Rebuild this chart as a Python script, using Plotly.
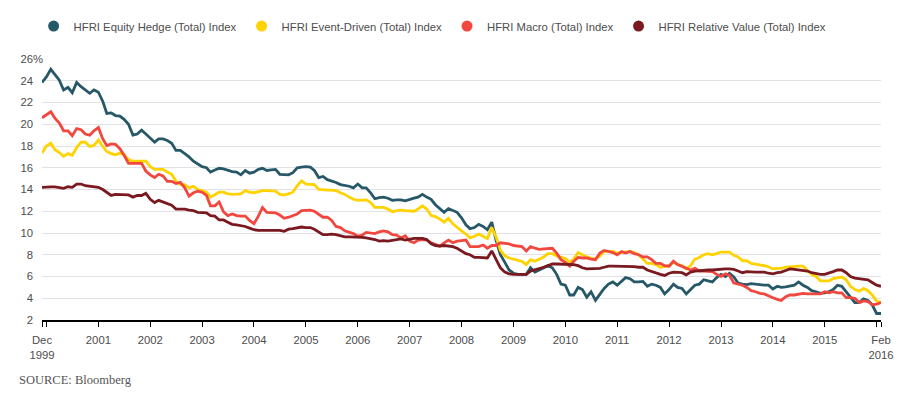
import pandas as pd
import plotly.graph_objects as go

# Monthly observations, Dec 1999 .. Feb 2016
dates = pd.date_range("1999-12-01", "2016-02-01", freq="MS")

equity_hedge = [
    23.85,
    24.35, 25.05, 24.55, 24.05, 23.15, 23.4, 22.9, 23.85, 23.45, 23.15, 22.85, 23.15,
    22.95, 22.1, 21.0, 21.05, 20.8, 20.75, 20.45, 20.0, 19.0, 19.1, 19.45, 19.1,
    18.7, 18.35, 18.65, 18.65, 18.5, 18.25, 17.6, 17.6, 17.3, 17.0, 16.6, 16.35,
    16.1, 16.0, 15.6, 15.8, 15.95, 15.9, 15.75, 15.65, 15.6, 15.35, 15.75, 15.5,
    15.6, 15.85, 15.95, 15.75, 15.8, 15.85, 15.4, 15.4, 15.35, 15.55, 16.0, 16.05,
    16.1, 16.05, 15.75, 15.1, 15.2, 14.9, 14.8, 14.65, 14.45, 14.4, 14.3, 14.15,
    14.5, 14.15, 14.15, 13.7, 13.15, 13.25, 13.3, 13.2, 13.0, 13.05, 13.05, 12.95,
    13.1, 13.2, 13.3, 13.55, 13.3, 13.1, 12.6, 12.25, 11.9, 12.25, 12.1, 11.9,
    11.4, 10.75, 10.4, 10.5, 10.8, 10.6, 10.3, 11.0, 9.3, 8.0, 7.3, 6.6,
    6.3, 6.2, 6.2, 6.2, 6.8, 6.4, 6.6, 6.8, 7.0, 6.8, 6.2, 5.3,
    5.2, 4.3, 4.3, 5.0, 4.8, 4.1, 4.6, 3.8, 4.4, 4.9, 5.3, 5.5,
    5.2, 5.6, 5.9, 5.8, 5.5, 5.5, 5.55, 5.1, 5.3, 5.2, 5.0, 4.4,
    4.8, 5.3, 5.0, 4.9, 4.4, 4.8, 5.2, 5.3, 5.7, 5.6, 5.5, 5.9,
    6.2, 6.0, 6.3, 5.95, 5.4, 5.3, 5.25, 5.35, 5.3, 5.2, 5.2, 5.2,
    4.85, 5.1, 5.0, 5.05, 5.15, 5.2, 5.5, 5.2, 5.0, 4.7, 4.6, 4.45,
    4.5, 4.6, 4.8, 5.2, 5.1, 4.6, 4.1, 3.6, 3.6, 3.95, 3.8, 3.4,
    2.6, 2.6,
]

event_driven = [
    17.35,
    18.0, 18.25, 17.65, 17.4, 17.05, 17.3, 17.15, 17.85, 18.35, 18.35, 17.95, 18.05,
    18.55, 17.95, 17.5, 17.3, 17.2, 17.35, 17.2, 16.75, 16.6, 16.6, 16.6, 16.6,
    16.1, 15.85, 15.85, 15.85, 15.6, 15.4, 14.75, 14.45, 14.45, 14.15, 14.3, 14.0,
    13.9, 13.75, 13.3, 13.55, 13.75, 13.75, 13.6, 13.55, 13.55, 13.6, 13.9, 13.75,
    13.7, 13.8, 13.9, 13.9, 13.85, 13.85, 13.55, 13.5, 13.6, 13.75, 14.35, 14.8,
    14.5, 14.5, 14.45, 14.0, 13.95, 13.95, 13.95, 13.9, 13.7, 13.55, 13.3, 13.1,
    13.0, 13.0, 13.05, 12.8, 12.35, 12.35, 12.35, 12.2, 11.95, 12.05, 12.1, 12.05,
    12.0, 12.0, 12.2, 12.5, 12.2, 11.6, 11.5, 11.3, 11.0, 11.35, 10.85, 10.5,
    10.2, 9.9, 9.55, 9.7, 9.9, 9.7, 9.5, 10.5, 9.6, 8.4, 7.9, 7.7,
    7.6, 7.5, 7.4, 7.1, 7.55, 7.4, 7.6, 7.8, 8.1, 8.1, 7.9, 7.8,
    7.65, 7.3, 7.6, 8.2, 8.0, 7.8, 7.7, 7.6, 7.9, 8.3, 8.3, 8.3,
    8.15, 8.2, 8.3, 8.3, 8.2, 8.0, 7.6, 7.2, 7.2, 7.1, 6.85, 6.95,
    7.0, 7.3, 7.1, 7.0, 6.7, 7.0, 7.6, 7.75, 8.0, 8.1, 8.0, 8.1,
    8.25, 8.25, 8.25, 7.95, 7.8, 7.45, 7.45, 7.2, 7.15, 7.05, 7.0, 6.9,
    6.7, 6.75, 6.75, 6.85, 6.9, 6.95, 6.95, 6.95, 6.55, 6.2, 6.0, 5.6,
    5.6, 5.6, 5.8, 5.9, 5.95, 5.7, 5.1, 4.8, 4.65, 4.9, 4.7, 4.3,
    3.75, 3.6,
]

macro = [
    20.6,
    20.85, 21.15, 20.55, 20.1, 19.4, 19.4, 18.95, 19.6, 19.5, 19.1, 19.0, 19.4,
    19.7, 18.65, 18.05, 18.2, 18.15, 17.75, 17.15, 16.4, 16.4, 16.4, 16.4, 15.7,
    15.35, 15.1, 15.4, 15.25, 14.75, 14.75, 14.55, 14.65, 14.15, 13.4, 13.7, 13.85,
    13.75, 13.45, 12.5, 12.5, 12.85, 11.95, 11.6, 11.75, 11.6, 11.55, 11.55, 11.15,
    10.85, 11.55, 12.35, 11.9, 11.9, 11.85, 11.65, 11.35, 11.45, 11.6, 11.75, 12.05,
    12.1, 12.1, 12.0, 11.75, 11.45, 11.45, 11.15, 10.6, 10.5, 10.2, 10.1, 9.95,
    9.7, 9.8, 10.05, 10.0, 9.95, 10.1, 10.2, 10.1, 9.85, 9.8, 9.55, 9.75,
    9.25, 9.1, 9.35, 9.4, 9.35, 9.1, 8.95, 8.8, 9.1, 9.35, 9.1, 9.25,
    9.3, 9.35, 8.75, 8.75, 8.75, 8.9, 8.6, 8.85, 8.85, 9.1, 9.05, 9.0,
    8.85, 8.8, 8.75, 8.35, 8.75, 8.6, 8.5, 8.55, 8.6, 8.6, 8.15, 7.55,
    7.3, 6.95, 7.4, 7.75, 7.7, 7.7, 7.6, 7.55, 8.15, 8.4, 8.3, 8.2,
    8.0, 8.3, 8.15, 8.3, 8.1, 8.0, 7.8, 7.8, 7.55, 7.2, 7.2, 7.0,
    6.95, 7.4, 7.1, 6.95, 6.8, 6.6, 6.75, 6.5, 6.5, 6.5, 6.45, 6.2,
    6.0, 6.25, 6.1, 5.4, 5.3, 5.2, 5.0, 4.7, 4.6, 4.45, 4.4, 4.2,
    4.05, 3.9, 3.8, 4.15, 4.3, 4.3, 4.35, 4.45, 4.4, 4.4, 4.35, 4.4,
    4.6, 4.5, 4.6, 4.5, 4.5, 4.05, 4.05, 4.0, 3.6, 3.75, 3.7, 3.4,
    3.45, 3.6,
]

relative_value = [
    14.2,
    14.25, 14.25, 14.25, 14.2, 14.1, 14.25, 14.2, 14.5, 14.5, 14.35, 14.3, 14.2,
    14.2, 14.0, 13.7, 13.45, 13.55, 13.55, 13.5, 13.5, 13.3, 13.45, 13.45, 13.65,
    13.1, 12.8, 13.0, 12.85, 12.7, 12.55, 12.2, 12.2, 12.2, 12.1, 12.05, 11.9,
    11.9, 11.85, 11.6, 11.55, 11.2, 11.2, 11.0, 10.8, 10.75, 10.7, 10.6, 10.45,
    10.3, 10.25, 10.25, 10.25, 10.25, 10.25, 10.25, 10.15, 10.35, 10.4, 10.45, 10.55,
    10.5, 10.5, 10.35, 10.1, 9.85, 9.85, 9.9, 9.85, 9.75, 9.65, 9.65, 9.65,
    9.65, 9.6, 9.55, 9.5, 9.4, 9.25, 9.3, 9.25, 9.3, 9.4, 9.45, 9.35,
    9.45, 9.5, 9.5, 9.5, 9.4, 9.0, 8.85, 8.8, 8.85, 8.8, 8.75, 8.6,
    8.35, 8.1, 8.0, 7.75, 7.75, 7.7, 7.7, 8.35, 7.55, 6.8, 6.4, 6.25,
    6.2, 6.2, 6.2, 6.2, 6.5, 6.6, 6.75, 6.85, 7.0, 7.15, 7.15, 7.15,
    7.15, 7.1, 7.1, 7.0, 6.8, 6.7, 6.7, 6.7, 6.75, 6.85, 6.95, 6.95,
    6.95, 6.95, 6.9, 6.9, 6.9, 6.85, 6.85, 6.6, 6.45, 6.35, 6.2, 6.1,
    6.3, 6.4, 6.4, 6.35, 6.15, 6.4, 6.5, 6.55, 6.6, 6.6, 6.6, 6.65,
    6.7, 6.7, 6.7, 6.65, 6.5, 6.35, 6.45, 6.4, 6.4, 6.4, 6.4, 6.3,
    6.25, 6.35, 6.4, 6.55, 6.7, 6.65, 6.6, 6.55, 6.5, 6.35, 6.25, 6.2,
    6.2, 6.3, 6.45, 6.6, 6.6, 6.35, 6.0, 5.85, 5.8, 5.8, 5.7, 5.45,
    5.2, 5.1,
]

series_names = [
    "HFRI Equity Hedge (Total) Index",
    "HFRI Event-Driven (Total) Index",
    "HFRI Macro (Total) Index",
    "HFRI Relative Value (Total) Index",
]
series_values = [equity_hedge, event_driven, macro, relative_value]
series_colors = ["#265868", "#FFD200", "#F2473F", "#7A1A20"]

x_tick_dates = ["1999-12-01"] + [f"{y}-01-01" for y in range(2000, 2017)] + ["2016-02-01"]
x_tick_text = ["Dec<br>1999", ""] + [str(y) for y in range(2001, 2016)] + ["", "Feb<br>2016"]
y_tick_vals = list(range(2, 27, 2))
y_tick_text = [str(v) for v in y_tick_vals]

SANS = "Liberation Sans, Arial, sans-serif"
TEXT = "#4d4d4d"

fig = go.Figure()
for name, vals, col in zip(series_names, series_values, series_colors):
    fig.add_trace(go.Scatter(
        x=dates, y=vals, mode="lines", name=name, legendgroup=name,
        showlegend=False, line=dict(color=col, width=2.8),
        hoverinfo="skip",
    ))
for name, col in zip(series_names, series_colors):
    fig.add_trace(go.Scatter(
        x=[None], y=[None], mode="markers", name=name, legendgroup=name,
        marker=dict(color=col, size=11, symbol="circle"),
    ))

fig.update_layout(
    width=911, height=401,
    margin=dict(l=42, r=30, t=53, b=81, pad=0),
    paper_bgcolor="white", plot_bgcolor="white",
    font=dict(family=SANS, size=11, color=TEXT),
    showlegend=True,
    legend=dict(
        orientation="h", x=-0.01, xanchor="left", y=1.126, yanchor="middle",
        font=dict(family=SANS, size=11.3, color=TEXT),
        itemsizing="trace", bgcolor="rgba(0,0,0,0)",
    ),
    xaxis=dict(
        type="date", range=["1999-12-01", "2016-02-01"],
        tickmode="array", tickvals=x_tick_dates, ticktext=x_tick_text,
        showgrid=False, zeroline=False,
        showline=True, linecolor="#000000", linewidth=1.6,
        ticks="outside", ticklen=5, tickwidth=1.3, tickcolor="#000000",
        ticklabelstandoff=4,
        tickfont=dict(family=SANS, size=11.3, color=TEXT),
    ),
    yaxis=dict(
        range=[2, 26], tickmode="array", tickvals=y_tick_vals, ticktext=y_tick_text,
        showgrid=True, gridcolor="#e1e1e7", gridwidth=1.3,
        zeroline=False, showline=False, ticks="",
        ticklabelstandoff=8,
        tickfont=dict(family=SANS, size=11.3, color=TEXT),
    ),
    annotations=[
        dict(text="%", xref="paper", yref="y", x=-0.0128, y=26, xanchor="left",
             yanchor="middle", showarrow=False,
             font=dict(family=SANS, size=11.3, color=TEXT)),
        dict(text="SOURCE: Bloomberg", xref="paper", yref="paper",
             x=-0.0298, y=-0.23, xanchor="left", yanchor="middle", showarrow=False,
             font=dict(family="Liberation Serif, DejaVu Serif, serif", size=12.5, color="#555555")),
    ],
)

fig.write_html("out.html")
